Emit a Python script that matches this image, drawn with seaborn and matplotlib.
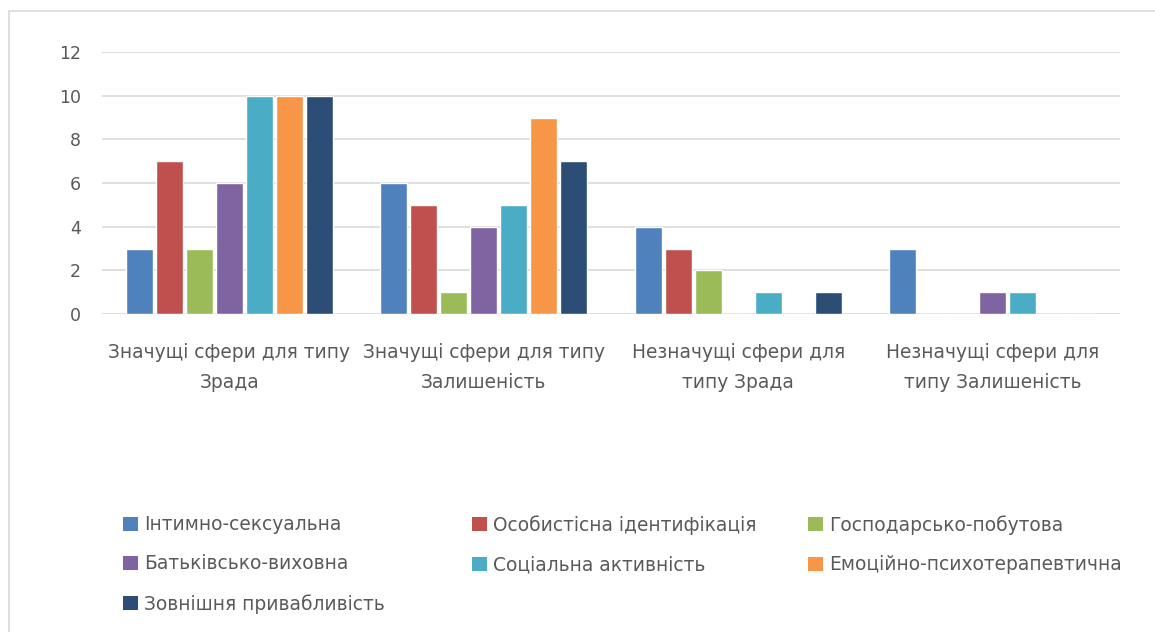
import matplotlib
matplotlib.use("Agg")
import matplotlib.pyplot as plt
from matplotlib.patches import Rectangle, Patch
import seaborn as sns
import pandas as pd

categories = [
    "Значущі сфери для типу\nЗрада",
    "Значущі сфери для типу\nЗалишеність",
    "Незначущі сфери для\nтипу Зрада",
    "Незначущі сфери для\nтипу Залишеність",
]
series = [
    "Інтимно-сексуальна",
    "Особистісна ідентифікація",
    "Господарсько-побутова",
    "Батьківсько-виховна",
    "Соціальна активність",
    "Емоційно-психотерапевтична",
    "Зовнішня привабливість",
]
intymno = [3, 6, 4, 3]
osobystisna = [7, 5, 3, 0]
hospodarsko = [3, 1, 2, 0]
batkivsko = [6, 4, 0, 1]
sotsialna = [10, 5, 1, 1]
emotsiino = [10, 9, 0, 0]
zovnishnia = [10, 7, 1, 0]
values = [intymno, osobystisna, hospodarsko, batkivsko, sotsialna, emotsiino, zovnishnia]
yticks = [0, 2, 4, 6, 8, 10, 12]

colors = ["#4F81BD", "#C0504D", "#9BBB59", "#8064A2", "#4BACC6", "#F79646", "#2C4D75"]

rows = []
for name, vals in zip(series, values):
    for cat, v in zip(categories, vals):
        rows.append({"category": cat, "series": name, "value": v})
df = pd.DataFrame(rows)

sns.set_theme(style="white")
plt.rcParams["font.family"] = ["DejaVu Sans"]
text_color = "#595959"
grid_color = "#D9D9D9"
fs = 13.4

fig = plt.figure(figsize=(11.55, 6.32), dpi=100)
ax = fig.add_axes([102 / 1155, 1 - 314 / 632, (1120 - 102) / 1155, (314 - 52) / 632])

sns.barplot(data=df, x="category", y="value", hue="series", order=categories,
            hue_order=series, palette=colors, width=0.825, gap=0.1,
            saturation=1, ax=ax, legend=False, zorder=3)

ax.set_ylim(0, 12)
ax.set_xlim(-0.5, len(categories) - 0.5)
ax.set_yticks(yticks)
ax.set_yticklabels([str(t) for t in yticks])
ax.yaxis.grid(True, color=grid_color, linewidth=1.2, zorder=0)
ax.set_axisbelow(True)
ax.set_xlabel("")
ax.set_ylabel("")
for s in ax.spines.values():
    s.set_visible(False)
ax.tick_params(axis="y", length=0, pad=15, labelsize=12.5, labelcolor=text_color)
ax.tick_params(axis="x", length=0, pad=21, labelsize=fs, labelcolor=text_color)
for lbl in ax.get_xticklabels():
    lbl.set_linespacing(1.72)

# chart frame
fig.patches.append(Rectangle((9 / 1155, -0.2), 1.5, 1 - 11 / 632 + 0.2,
                             transform=fig.transFigure, fill=False,
                             edgecolor=grid_color, linewidth=1.2))

# legend laid out in three columns, filled row by row
handles = [Patch(facecolor=c, edgecolor="none") for c in colors]
col_x = [123 / 1155, 472 / 1155, 808 / 1155]
for ci, x in enumerate(col_x):
    idx = list(range(ci, len(series), 3))
    fig.legend([handles[i] for i in idx], [series[i] for i in idx],
               loc="upper left", bbox_to_anchor=(x, 1 - 515 / 632),
               frameon=False, fontsize=fs, labelcolor=text_color,
               handlelength=0.78, handleheight=0.78, handletextpad=0.35,
               labelspacing=1.1, borderaxespad=0, borderpad=0)

fig.savefig("out.png", dpi=100, facecolor="white")
